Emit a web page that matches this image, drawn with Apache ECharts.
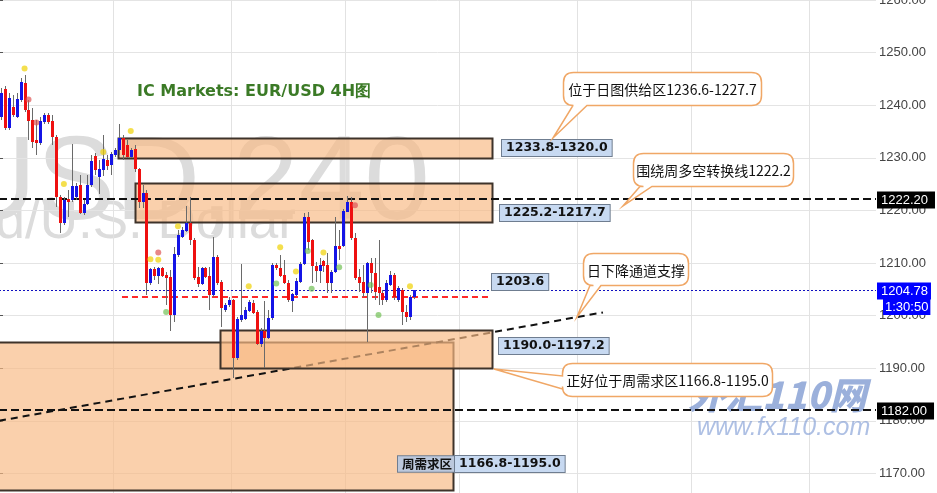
<!DOCTYPE html>
<html>
<head>
<meta charset="utf-8">
<script src="https://cdn.jsdelivr.net/npm/echarts/dist/echarts.min.js"></script>
<style>
html, body { margin: 0; padding: 0; background: #fff; }
#chart { width: 937px; height: 493px; }
</style>
</head>
<body>
<div id="chart"></div>
<script>
// XAUUSD, H4 candles (oldest first)
const opens = [1237.8,1243.1,1235.7,1239.7,1237.8,1241.0,1244.2,1239.1,1237.2,1233.4,1232.8,1236.8,1238.1,1237.0,1234.0,1222.5,1217.6,1222.2,1222.0,1222.5,1224.8,1219.5,1221.2,1224.8,1230.3,1226.4,1227.7,1229.6,1228.6,1230.5,1231.5,1233.8,1232.4,1230.2,1231.7,1227.9,1221.6,1223.3,1206.2,1208.9,1207.5,1209.1,1207.7,1207.3,1200.1,1211.5,1214.9,1216.1,1217.6,1214.4,1207.3,1206.0,1209.1,1207.5,1203.9,1211.1,1206.4,1201.1,1202.0,1203.0,1191.9,1199.2,1199.4,1200.9,1202.4,1200.7,1194.6,1197.1,1195.7,1199.5,1209.6,1209.1,1207.7,1206.2,1202.8,1203.9,1206.4,1209.8,1218.7,1214.4,1209.4,1208.5,1210.4,1209.6,1206.2,1208.3,1213.2,1213.2,1219.7,1221.6,1214.8,1207.3,1206.4,1204.3,1210.0,1208.1,1205.4,1204.3,1203.0,1205.8,1207.7,1203.0,1204.9,1200.7,1199.7,1203.5];
const closes = [1242.3,1235.7,1241.4,1238.1,1241.2,1244.4,1239.1,1237.0,1233.0,1232.8,1237.0,1238.1,1236.8,1234.0,1222.5,1217.6,1222.0,1221.6,1224.6,1224.6,1219.5,1221.2,1224.8,1229.4,1227.7,1227.9,1229.8,1228.4,1230.7,1231.5,1233.8,1230.5,1230.2,1231.5,1227.9,1221.6,1223.3,1206.2,1208.9,1207.5,1209.1,1207.5,1207.2,1200.1,1211.7,1215.3,1216.3,1217.6,1214.4,1207.2,1206.0,1209.1,1207.3,1203.9,1211.1,1206.2,1201.4,1202.0,1203.0,1191.9,1199.4,1200.1,1201.1,1202.6,1200.5,1194.6,1197.1,1195.7,1199.5,1209.6,1209.1,1207.5,1206.2,1203.0,1204.1,1206.6,1209.8,1218.7,1214.0,1209.4,1208.5,1209.6,1209.4,1206.2,1208.3,1213.2,1212.7,1219.9,1221.6,1214.8,1207.2,1206.2,1204.3,1210.0,1208.1,1204.5,1204.3,1203.0,1206.2,1207.7,1203.5,1205.3,1200.7,1199.7,1203.5,1204.78];
const lows = [1237.2,1235.3,1235.3,1237.8,1237.6,1240.6,1238.7,1233.4,1231.9,1230.5,1232.4,1236.4,1236.4,1232.4,1220.6,1215.7,1217.2,1218.7,1221.6,1222.0,1219.3,1219.1,1221.0,1224.4,1226.7,1223.1,1226.5,1227.7,1226.7,1230.2,1230.5,1229.6,1230.0,1230.0,1227.3,1220.5,1220.5,1203.9,1205.8,1206.8,1206.0,1207.3,1202.0,1197.1,1198.8,1211.1,1214.8,1215.9,1213.4,1206.8,1205.4,1205.8,1207.2,1201.1,1203.5,1205.8,1197.8,1200.7,1201.6,1188.1,1191.6,1198.8,1199.2,1200.7,1200.3,1194.4,1194.0,1190.0,1195.5,1199.2,1208.7,1207.3,1206.0,1202.6,1200.7,1203.7,1206.2,1209.6,1212.5,1206.2,1206.4,1206.2,1208.3,1204.3,1204.3,1208.1,1210.6,1213.0,1219.7,1214.4,1206.8,1204.5,1203.5,1195.0,1204.3,1203.0,1202.0,1202.0,1202.6,1205.6,1203.0,1202.6,1198.2,1198.8,1199.2,1203.2];
const highs = [1243.3,1243.6,1242.3,1241.9,1242.3,1245.2,1245.7,1241.0,1239.5,1237.2,1237.8,1238.5,1238.5,1238.1,1234.3,1222.9,1222.5,1223.9,1232.6,1225.2,1226.7,1222.0,1226.7,1230.5,1230.9,1229.6,1234.3,1230.5,1231.1,1231.9,1236.4,1234.3,1233.4,1231.9,1232.4,1228.1,1224.8,1223.9,1209.1,1209.2,1209.2,1209.2,1208.3,1208.7,1213.0,1216.3,1216.8,1220.8,1222.5,1214.8,1209.2,1209.2,1209.2,1209.2,1214.9,1211.5,1206.8,1202.4,1203.5,1203.2,1199.7,1209.8,1201.6,1203.0,1203.0,1201.1,1197.6,1202.8,1201.1,1210.0,1210.0,1211.5,1210.6,1206.8,1204.3,1207.2,1210.2,1219.5,1219.7,1214.6,1210.2,1211.0,1210.6,1211.9,1208.7,1218.7,1216.3,1220.3,1222.7,1222.5,1215.7,1208.9,1209.6,1210.2,1211.0,1211.0,1214.4,1204.9,1206.8,1208.5,1208.1,1205.6,1205.3,1202.0,1203.9,1204.9];

// indicator dots: [bar index, price]
const yellowDots = [[6,1247.0],[16,1225.0],[26,1231.1],[33,1235.1],[38,1210.7],[40,1210.6],[45,1217.0],[63,1205.6],[71,1213.0],[75,1208.4],[82,1212.0],[104,1205.6]];
const redDots = [[7,1241.1],[9,1236.7],[40,1212.0],[90,1221.0]];
const greenDots = [[42,1200.7],[70,1206.1],[78,1212.3],[79,1205.1],[86,1209.2],[94,1205.8],[96,1200.1]];

// price axis ticks
const priceTicks = { min: 1160, max: 1260, step: 10 };

// bar slots on the time axis, and weekly session boundaries (slot index)
const slotCount = 223;
const weekBreaks = [29, 59, 88, 117, 147, 176, 206];

// supply / demand zones: [from slot, to slot, upper price, lower price]
const zoneBack = [[-1, 115.43, 1195.0, 1166.8]];
const zoneFront = [[30.26, 125.35, 1233.8, 1230.0], [34.58, 125.35, 1225.2, 1217.7], [56.19, 125.35, 1197.2, 1190.0]];

// descending channel support: [slot, price, slot, price]
const channel = [[0, 1180.0, 153.57, 1200.6]];

// horizontal levels: [price, from slot, to slot]
const keyLevels = [[1222.2, 0, 223], [1182.0, 0, 223]];
const bidLevel = [[1204.78, 0, 223]];
const redLevel = [[1203.6, 31.27, 124.85]];

// zone tags: [text, left slot, price]
const zoneTags = [
  ['1233.8-1320.0', 127.9, 1231.9],
  ['1225.2-1217.7', 127.4, 1219.5],
  ['1190.0-1197.2', 127.1, 1194.2],
  ['1203.6', 125.35, 1206.3],
  ['周需求区', 101.45, 1171.7],
  ['1166.8-1195.0', 115.95, 1171.7]
];

// callouts: [text, left slot, top price, right slot, bottom price, tip slot, tip price, tail side, tail a, tail b]
const callouts = [
  ['位于日图供给区1236.6-1227.7', 143.40, 1246.31, 193.75, 1240.04, 140.86, 1233.76, 'bottom', 145.94, 149.50],
  ['围绕周多空转换线1222.2', 161.20, 1230.91, 201.88, 1224.64, 158.66, 1220.84, 'bottom', 162.98, 166.03],
  ['日下降通道支撑', 148.49, 1211.90, 175.18, 1205.82, 146.96, 1199.73, 'bottom', 150.27, 153.06],
  ['正好位于周需求区1166.8-1195.0', 143.15, 1190.99, 196.54, 1184.71, 125.86, 1189.85, 'left', 1188.52, 1186.05]
];

// price tags on the axis: [price, text, background]
const axisTags = [[1222.2, '1222.20', '#000000'], [1182.0, '1182.00', '#000000'], [1204.78, '1204.78', '#0000ff']];
const barTimer = '1:30:50';

const UP = '#1414e6';
const DOWN = '#ee1010';

const chart = echarts.init(document.getElementById('chart'), null, { renderer: 'canvas' });

const categories = Array.from({ length: slotCount }, (_, i) => String(i));
const candleData = opens.map((o, i) => [i, o, closes[i], lows[i], highs[i]]);

function calloutPath(x1, y1, x2, y2, r, side, tx, ty, a, b) {
  let d = 'M' + (x1 + r) + ',' + y1 + ' L' + (x2 - r) + ',' + y1 +
    ' Q' + x2 + ',' + y1 + ' ' + x2 + ',' + (y1 + r) +
    ' L' + x2 + ',' + (y2 - r) +
    ' Q' + x2 + ',' + y2 + ' ' + (x2 - r) + ',' + y2;
  if (side === 'bottom') d += ' L' + b + ',' + y2 + ' L' + tx + ',' + ty + ' L' + a + ',' + y2;
  d += ' L' + (x1 + r) + ',' + y2 + ' Q' + x1 + ',' + y2 + ' ' + x1 + ',' + (y2 - r);
  if (side === 'left') d += ' L' + x1 + ',' + b + ' L' + tx + ',' + ty + ' L' + x1 + ',' + a;
  d += ' L' + x1 + ',' + (y1 + r) + ' Q' + x1 + ',' + y1 + ' ' + (x1 + r) + ',' + y1 + ' Z';
  return d;
}

function zoneRenderer(params, api) {
  const p1 = api.coord([api.value(0), api.value(2)]);
  const p2 = api.coord([api.value(1), api.value(3)]);
  return {
    type: 'rect',
    shape: { x: Math.round(p1[0]) + 0.5, y: Math.round(p1[1]) + 0.5, width: Math.round(p2[0] - p1[0]), height: Math.round(p2[1] - p1[1]) },
    style: { fill: 'rgba(248,186,132,0.68)', stroke: '#3e332a', lineWidth: 2 }
  };
}

function levelRenderer(style) {
  return function (params, api) {
    const p1 = api.coord([api.value(1), api.value(0)]);
    const p2 = api.coord([api.value(2), api.value(0)]);
    const y = Math.round(p1[1]) + (style.lineWidth === 2 ? 0 : 0.5);
    return { type: 'line', shape: { x1: p1[0], y1: y, x2: p2[0], y2: y }, style: style };
  };
}

const dotSeries = (data, color) => ({
  type: 'scatter', xAxisIndex: 0, yAxisIndex: 0, z: 7, silent: true,
  symbol: 'circle', symbolSize: 6, data: data,
  itemStyle: { color: color }
});

const option = {
  animation: false,
  backgroundColor: '#ffffff',
  title: {
    text: 'IC Markets: EUR/USD 4H图',
    left: 137, top: 84, padding: 0,
    textStyle: { color: '#3b7a26', fontSize: 16, fontWeight: 'bold', fontFamily: 'DejaVu Sans' }
  },
  graphic: [
    { type: 'text', z: -5, silent: true, x: 430, y: 127,
      style: { text: 'XAUUSD,240', font: '118px "Liberation Sans"', fill: '#dcdcdc', align: 'right', verticalAlign: 'alphabetic' } },
    { type: 'text', z: -5, silent: true, x: 296, y: 197,
      style: { text: 'Gold/U.S. Dollar', font: '53px "Liberation Sans"', fill: '#dcdcdc', align: 'right', verticalAlign: 'alphabetic' } },
    { type: 'text', z: 1, silent: true, x: 688, y: 376,
      style: { text: '外汇110网', font: 'italic 900 37px "Noto Sans CJK SC"', fill: 'rgba(112,142,204,0.7)', align: 'left', verticalAlign: 'top' } },
    { type: 'text', z: 1, silent: true, x: 697, y: 416,
      style: { text: 'www.fx110.com', font: 'italic 25px "Liberation Sans"', fill: 'rgba(120,150,210,0.6)', align: 'left', verticalAlign: 'top' } }
  ],
  grid: { left: -1, top: 0, width: 877, height: 526, containLabel: false, outerBoundsMode: 'none' },
  xAxis: [
    { type: 'category', data: categories, boundaryGap: true, show: true,
      axisLine: { show: false }, axisTick: { show: false }, axisLabel: { show: false },
      splitLine: { show: false } },
    { type: 'value', min: 0, max: slotCount, show: false, splitLine: { show: false } }
  ],
  yAxis: {
    type: 'value', position: 'right', min: priceTicks.min, max: priceTicks.max, interval: priceTicks.step,
    axisLine: { show: true, lineStyle: { color: '#555', width: 1 } },
    axisTick: { show: true, length: 4, lineStyle: { color: '#555' } },
    axisLabel: { color: '#444', fontSize: 13, fontFamily: 'Liberation Sans', margin: 3, formatter: v => v.toFixed(2) },
    splitLine: { show: true, lineStyle: { color: '#e4e4e4', width: 1 } }
  },
  series: [
    // weekly separators
    { type: 'custom', xAxisIndex: 1, yAxisIndex: 0, z: 0, silent: true,
      data: weekBreaks.map(v => [v]),
      encode: { x: 0 },
      renderItem(params, api) {
        const x = Math.round(api.coord([api.value(0), priceTicks.max])[0]) + 0.5;
        return { type: 'line', shape: { x1: x, y1: 0, x2: x, y2: 493 }, style: { stroke: '#e2e2e2', lineWidth: 1 } };
      } },
    // weekly demand zone (behind)
    { type: 'custom', xAxisIndex: 1, yAxisIndex: 0, z: 1, silent: true, data: zoneBack, encode: { x: [0, 1], y: [2, 3] }, renderItem: zoneRenderer },
    // channel support
    { type: 'custom', xAxisIndex: 1, yAxisIndex: 0, z: 2, silent: true, data: channel, encode: { x: [0, 2], y: [1, 3] },
      renderItem(params, api) {
        const p1 = api.coord([api.value(0), api.value(1)]);
        const p2 = api.coord([api.value(2), api.value(3)]);
        return { type: 'line', shape: { x1: p1[0], y1: p1[1], x2: p2[0], y2: p2[1] }, style: { stroke: '#111', lineWidth: 2, lineDash: [7, 5] } };
      } },
    // supply / demand zones
    { type: 'custom', xAxisIndex: 1, yAxisIndex: 0, z: 3, silent: true, data: zoneFront, encode: { x: [0, 1], y: [2, 3] }, renderItem: zoneRenderer },
    // key levels
    { type: 'custom', xAxisIndex: 1, yAxisIndex: 0, z: 4, silent: true, data: keyLevels, encode: { x: [1, 2], y: 0 },
      renderItem: levelRenderer({ stroke: '#111', lineWidth: 2, lineDash: [8, 4] }) },
    { type: 'custom', xAxisIndex: 1, yAxisIndex: 0, z: 4, silent: true, data: redLevel, encode: { x: [1, 2], y: 0 },
      renderItem: levelRenderer({ stroke: '#ff2a2a', lineWidth: 2, lineDash: [6, 4] }) },
    { type: 'custom', xAxisIndex: 1, yAxisIndex: 0, z: 4, silent: true, data: bidLevel, encode: { x: [1, 2], y: 0 },
      renderItem: levelRenderer({ stroke: '#1010c0', lineWidth: 1, lineDash: [2, 2] }) },
    // candles
    { type: 'custom', xAxisIndex: 0, yAxisIndex: 0, z: 5, silent: true, data: candleData, encode: { x: 0, y: [1, 2, 3, 4] },
      renderItem(params, api) {
        const i = api.value(0), o = api.value(1), c = api.value(2), l = api.value(3), h = api.value(4);
        const pO = api.coord([i, o]), pC = api.coord([i, c]);
        const pL = api.coord([i, l]), pH = api.coord([i, h]);
        const cx = Math.round(pO[0]);
        const top = Math.round(Math.min(pO[1], pC[1]));
        const bot = Math.round(Math.max(pO[1], pC[1]));
        return { type: 'group', children: [
          { type: 'line', shape: { x1: cx + 0.5, y1: Math.round(pH[1]), x2: cx + 0.5, y2: Math.round(pL[1]) }, style: { stroke: '#6a6a6a', lineWidth: 1 } },
          { type: 'rect', shape: { x: cx - 1, y: top, width: 3, height: Math.max(1, bot - top) }, style: { fill: c >= o ? UP : DOWN } }
        ] };
      } },
    dotSeries(yellowDots, 'rgba(240,210,10,0.9)'),
    dotSeries(redDots, 'rgba(222,80,80,0.85)'),
    dotSeries(greenDots, 'rgba(110,190,80,0.85)'),
    // zone tags
    { type: 'custom', xAxisIndex: 1, yAxisIndex: 0, z: 8, silent: true, clip: false, data: zoneTags, encode: { x: 1, y: 2 },
      renderItem(params, api) {
        const item = zoneTags[params.dataIndex];
        const p = api.coord([item[1], item[2]]);
        const cjk = /[\u4e00-\u9fff]/.test(item[0]);
        return { type: 'text', x: Math.round(p[0]), y: Math.round(p[1]),
          style: { text: item[0], align: 'left', verticalAlign: 'middle',
            font: cjk ? 'bold 12.5px "Noto Sans CJK SC"' : 'bold 12.5px "DejaVu Sans"', fill: '#111',
            backgroundColor: cjk ? '#bcc8dc' : '#c7d9f1', borderColor: '#6f7d90', borderWidth: 1, padding: [2, 4, 1, 4] } };
      } },
    // callouts
    { type: 'custom', xAxisIndex: 1, yAxisIndex: 0, z: 9, silent: true, clip: false, data: callouts.map(c => [c[1], c[2], c[3], c[4]]), encode: { x: [0, 2], y: [1, 3] },
      renderItem(params, api) {
        const c = callouts[params.dataIndex];
        const p1 = api.coord([c[1], c[2]]);
        const p2 = api.coord([c[3], c[4]]);
        const tip = api.coord([c[5], c[6]]);
        let a, b;
        if (c[7] === 'bottom') { a = api.coord([c[8], c[4]])[0]; b = api.coord([c[9], c[4]])[0]; }
        else { a = api.coord([c[1], c[8]])[1]; b = api.coord([c[1], c[9]])[1]; }
        const x1 = Math.round(p1[0]) + 0.5, y1 = Math.round(p1[1]) + 0.5, x2 = Math.round(p2[0]) + 0.5, y2 = Math.round(p2[1]) + 0.5;
        return { type: 'group', children: [
          { type: 'path', shape: { pathData: calloutPath(x1, y1, x2, y2, 10, c[7], tip[0], tip[1], a, b) },
            style: { fill: '#ffffff', stroke: '#f0a766', lineWidth: 1.5 } },
          { type: 'text', x: (x1 + x2) / 2, y: (y1 + y2) / 2 + 1,
            style: { text: c[0], align: 'center', verticalAlign: 'middle', font: '14px "Noto Sans CJK SC"', fill: '#111' } }
        ] };
      } },
    // price tags on the axis
    { type: 'custom', xAxisIndex: 1, yAxisIndex: 0, z: 10, silent: true, clip: false, data: axisTags.map(t => [slotCount, t[0]]), encode: { x: 0, y: 1 },
      renderItem(params, api) {
        const t = axisTags[params.dataIndex];
        const p = api.coord([slotCount, t[0]]);
        const isBid = t[0] === bidLevel[0][0];
        const children = [
          { type: 'text', x: Math.round(p[0]) + 1, y: Math.round(p[1]) + 1,
            style: { text: t[1], align: 'left', verticalAlign: 'middle', font: '13px "Liberation Sans"', fill: '#fff',
              backgroundColor: t[2], padding: isBid ? [1, 3, 1, 4] : [1, 7, 1, 4], lineHeight: 15 } }
        ];
        if (isBid) {
          children.push({ type: 'text', x: Math.round(p[0]) + 7, y: Math.round(p[1]) + 17,
            style: { text: barTimer, align: 'left', verticalAlign: 'middle', font: '13px "Liberation Sans"', fill: '#fff',
              backgroundColor: t[2], padding: [1, 2, 0, 2], lineHeight: 15 } });
        }
        return { type: 'group', children: children };
      } }
  ]
};

chart.setOption(option);
</script>
</body>
</html>
